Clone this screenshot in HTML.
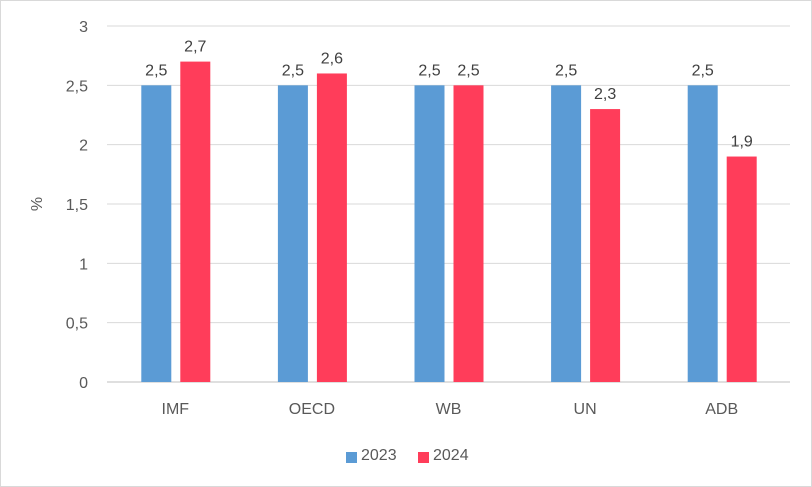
<!DOCTYPE html>
<html><head><meta charset="utf-8"><style>
body{margin:0;background:#fff}
svg{display:block;font-family:"Liberation Sans",sans-serif}
</style></head><body>
<svg id="chart" width="812" height="487">
<rect x="0.5" y="0.5" width="811" height="486" fill="#fff" stroke="#d9d9d9"/>
<g id="grid"></g><g id="bars"></g><g id="labels"></g>
<text x="42" y="204" font-size="16" fill="#595959" text-anchor="middle" transform="rotate(-90 42 204)">%</text>
<rect x="346" y="452" width="11" height="11" fill="#5b9bd5"/>
<text x="361" y="460" font-size="16" fill="#595959">2023</text>
<rect x="418" y="452" width="11" height="11" fill="#ff3d5a"/>
<text x="433" y="460" font-size="16" fill="#595959">2024</text>
</svg>
<script>
const categories=["IMF","OECD","WB","UN","ADB"];
const values2023=[2.5,2.5,2.5,2.5,2.5];
const values2024=[2.7,2.6,2.5,2.3,1.9];
const yTicks=[0,0.5,1,1.5,2,2.5,3];
const NS="http://www.w3.org/2000/svg";
const plotLeft=107,plotRight=790,plotTop=26,plotBottom=382,yMax=3;
const yScale=v=>plotBottom-(v/yMax)*(plotBottom-plotTop);
const band=(plotRight-plotLeft)/categories.length;
const cx=i=>plotLeft+band*(i+0.5);
const fmt=v=>String(v).replace('.',',');
function mk(tag,attrs,parent,text){const e=document.createElementNS(NS,tag);for(const k in attrs)e.setAttribute(k,attrs[k]);if(text!==undefined)e.textContent=text;parent.appendChild(e);return e;}
const gridG=document.getElementById('grid'),barsG=document.getElementById('bars'),labelsG=document.getElementById('labels');
yTicks.forEach(t=>{
  const l=mk('line',{x1:plotLeft,x2:plotRight,y1:yScale(t),y2:yScale(t),stroke:t===0?'#bfbfbf':'#d9d9d9','stroke-width':1},gridG);
  
  
  const tx=mk('text',{x:88,y:yScale(t)+6,'font-size':16,fill:'#595959','text-anchor':'end'},gridG,fmt(t));
  
  
});
categories.forEach((c,i)=>{
  const series=[[values2023[i],'#5b9bd5',-34],[values2024[i],'#ff3d5a',5]];
  series.forEach(([v,col,off],s)=>{
    const x=cx(i)+off;
    const r=mk('rect',{x:x,y:yScale(v),width:30,height:plotBottom-yScale(v),fill:col},barsG);
    
    
    const t=mk('text',{x:x+15,y:yScale(v)-10,'font-size':16,fill:'#404040','text-anchor':'middle'},labelsG,fmt(v));
    
    
  });
  const cl=mk('text',{x:cx(i),y:414,'font-size':16,fill:'#595959','text-anchor':'middle'},labelsG,c);
  
  
});
</script>
</body></html>
